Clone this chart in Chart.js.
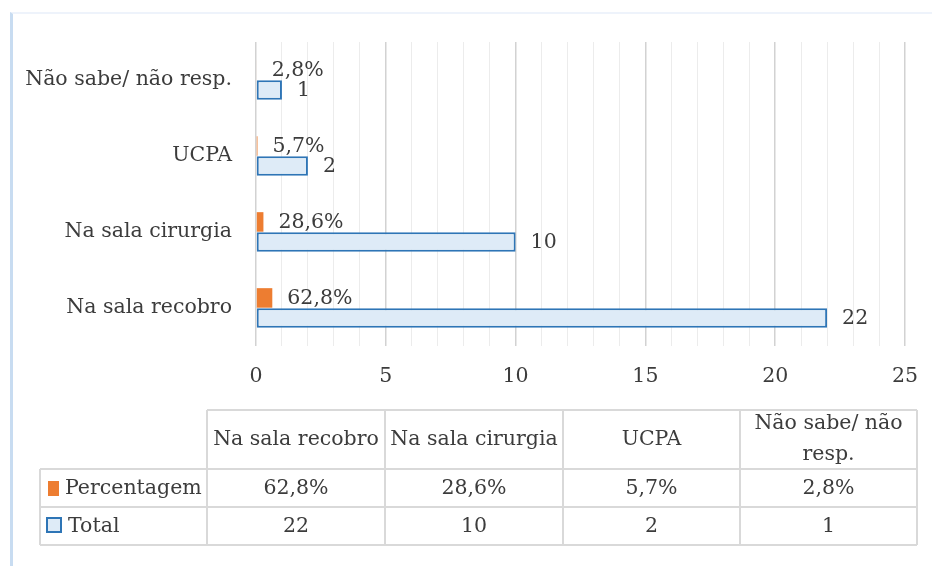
<!DOCTYPE html>
<html>
<head>
<meta charset="utf-8">
<script src="https://cdn.jsdelivr.net/npm/chart.js@4/dist/chart.umd.min.js"></script>
<style>
  html, body { margin: 0; padding: 0; background: #fff; }
  #frame {
    position: absolute; left: 10px; top: 12px; width: 922px; height: 554px;
    border-left: 3px solid #c8dcf1; border-top: 2px solid #eef3fb;
    box-sizing: border-box;
  }
  #wrap { position: absolute; left: 0; top: 0; width: 932px; height: 566px; }
</style>
</head>
<body>
<div id="frame"></div>
<div id="wrap"><canvas id="chart"></canvas></div>
<script>
const categories = ['Na sala recobro', 'Na sala cirurgia', 'UCPA', 'Não sabe/ não resp.'];
const tableHeaders = [['Na sala recobro'], ['Na sala cirurgia'], ['UCPA'], ['Não sabe/ não', 'resp.']];
const percentagem = [0.628, 0.286, 0.057, 0.028];
const total = [22, 10, 2, 1];
const xTicks = [0, 5, 10, 15, 20, 25];

const FONT = "'DejaVu Serif', serif";
const FSIZE = 20.5;
const TEXT = '#3c3c3c';
const ORANGE = '#ed7d31';
const BLUE = '#2e75b6';
const BLUE_FILL = '#deebf7';

function fmtPct(v) {
  return (v * 100).toFixed(1).replace('.', ',') + '%';
}

// value labels next to each bar
const valueLabels = {
  id: 'valueLabels',
  afterDatasetsDraw(chart) {
    const ctx = chart.ctx;
    ctx.save();
    ctx.font = FSIZE + 'px ' + FONT;
    ctx.fillStyle = TEXT;
    ctx.textBaseline = 'middle';
    ctx.textAlign = 'left';
    chart.data.datasets.forEach((ds, i) => {
      const meta = chart.getDatasetMeta(i);
      meta.data.forEach((el, j) => {
        const txt = i === 0 ? fmtPct(ds.data[j]) : String(ds.data[j]);
        ctx.fillText(txt, el.x + 15, el.y + 1);
      });
    });
    ctx.restore();
  }
};

// data table under the chart
const dataTable = {
  id: 'dataTable',
  afterDraw(chart) {
    const ctx = chart.ctx;
    const cols = [40, 207, 385, 563, 740, 917];
    const rows = [410, 469, 507, 545];
    ctx.save();
    ctx.strokeStyle = '#d9d9d9';
    ctx.lineWidth = 2;
    ctx.beginPath();
    ctx.moveTo(cols[1], rows[0]); ctx.lineTo(cols[5], rows[0]);
    ctx.moveTo(cols[0], rows[1]); ctx.lineTo(cols[5], rows[1]);
    ctx.moveTo(cols[0], rows[2]); ctx.lineTo(cols[5], rows[2]);
    ctx.moveTo(cols[0], rows[3]); ctx.lineTo(cols[5], rows[3]);
    ctx.moveTo(cols[0], rows[1]); ctx.lineTo(cols[0], rows[3]);
    for (let c = 1; c < cols.length; c++) {
      ctx.moveTo(cols[c], rows[0]); ctx.lineTo(cols[c], rows[3]);
    }
    ctx.stroke();

    ctx.font = FSIZE + 'px ' + FONT;
    ctx.fillStyle = TEXT;
    ctx.textAlign = 'center';
    ctx.textBaseline = 'middle';
    for (let k = 0; k < categories.length; k++) {
      const cx = (cols[k + 1] + cols[k + 2]) / 2;
      const lines = tableHeaders[k];
      const mid = (rows[0] + rows[1]) / 2;
      lines.forEach((ln, n) => {
        ctx.fillText(ln, cx, mid + (n - (lines.length - 1) / 2) * 31);
      });
      ctx.fillText(fmtPct(percentagem[k]), cx, (rows[1] + rows[2]) / 2 + 1);
      ctx.fillText(String(total[k]), cx, (rows[2] + rows[3]) / 2 + 1);
    }

    // legend keys
    ctx.textAlign = 'left';
    ctx.fillStyle = ORANGE;
    ctx.fillRect(48, 481, 11, 15);
    ctx.fillStyle = TEXT;
    ctx.fillText('Percentagem', 65, (rows[1] + rows[2]) / 2 + 1);
    ctx.fillStyle = BLUE_FILL;
    ctx.fillRect(47, 518, 14, 14);
    ctx.strokeStyle = BLUE;
    ctx.lineWidth = 2;
    ctx.strokeRect(47, 518, 14, 14);
    ctx.fillStyle = TEXT;
    ctx.fillText('Total', 68, (rows[2] + rows[3]) / 2 + 1);
    ctx.restore();
  }
};

new Chart(document.getElementById('chart'), {
  type: 'bar',
  data: {
    labels: categories,
    datasets: [
      {
        label: 'Percentagem',
        data: percentagem,
        backgroundColor: ORANGE,
        borderWidth: 0
      },
      {
        label: 'Total',
        data: total,
        backgroundColor: BLUE_FILL,
        borderColor: BLUE,
        borderWidth: 2,
        borderSkipped: false
      }
    ]
  },
  options: {
    indexAxis: 'y',
    responsive: true,
    maintainAspectRatio: false,
    animation: false,
    categoryPercentage: 0.53,
    barPercentage: 0.97,
    layout: { padding: { left: 0, right: 27, top: 42, bottom: 170 } },
    plugins: {
      legend: { display: false },
      tooltip: { enabled: false }
    },
    scales: {
      x: {
        min: 0,
        max: 25,
        border: { display: false },
        grid: {
          drawTicks: false,
          color: c => (xTicks.includes(c.tick.value) ? '#d2d2d2' : '#ececec'),
          lineWidth: c => (xTicks.includes(c.tick.value) ? 1.5 : 1)
        },
        ticks: {
          stepSize: 1,
          autoSkip: false,
          maxRotation: 0,
          padding: 18,
          color: TEXT,
          font: { family: FONT, size: FSIZE },
          callback: v => (xTicks.includes(v) ? v : '')
        },
        afterFit: s => { s.height = 50; s.paddingRight = 0; s.paddingLeft = 0; }
      },
      y: {
        reverse: true,
        border: { display: false },
        grid: { display: false, drawTicks: false },
        ticks: {
          padding: 24,
          color: TEXT,
          font: { family: FONT, size: FSIZE }
        },
        afterFit: s => { s.width = 256; }
      }
    }
  },
  plugins: [valueLabels, dataTable]
});
</script>
</body>
</html>
